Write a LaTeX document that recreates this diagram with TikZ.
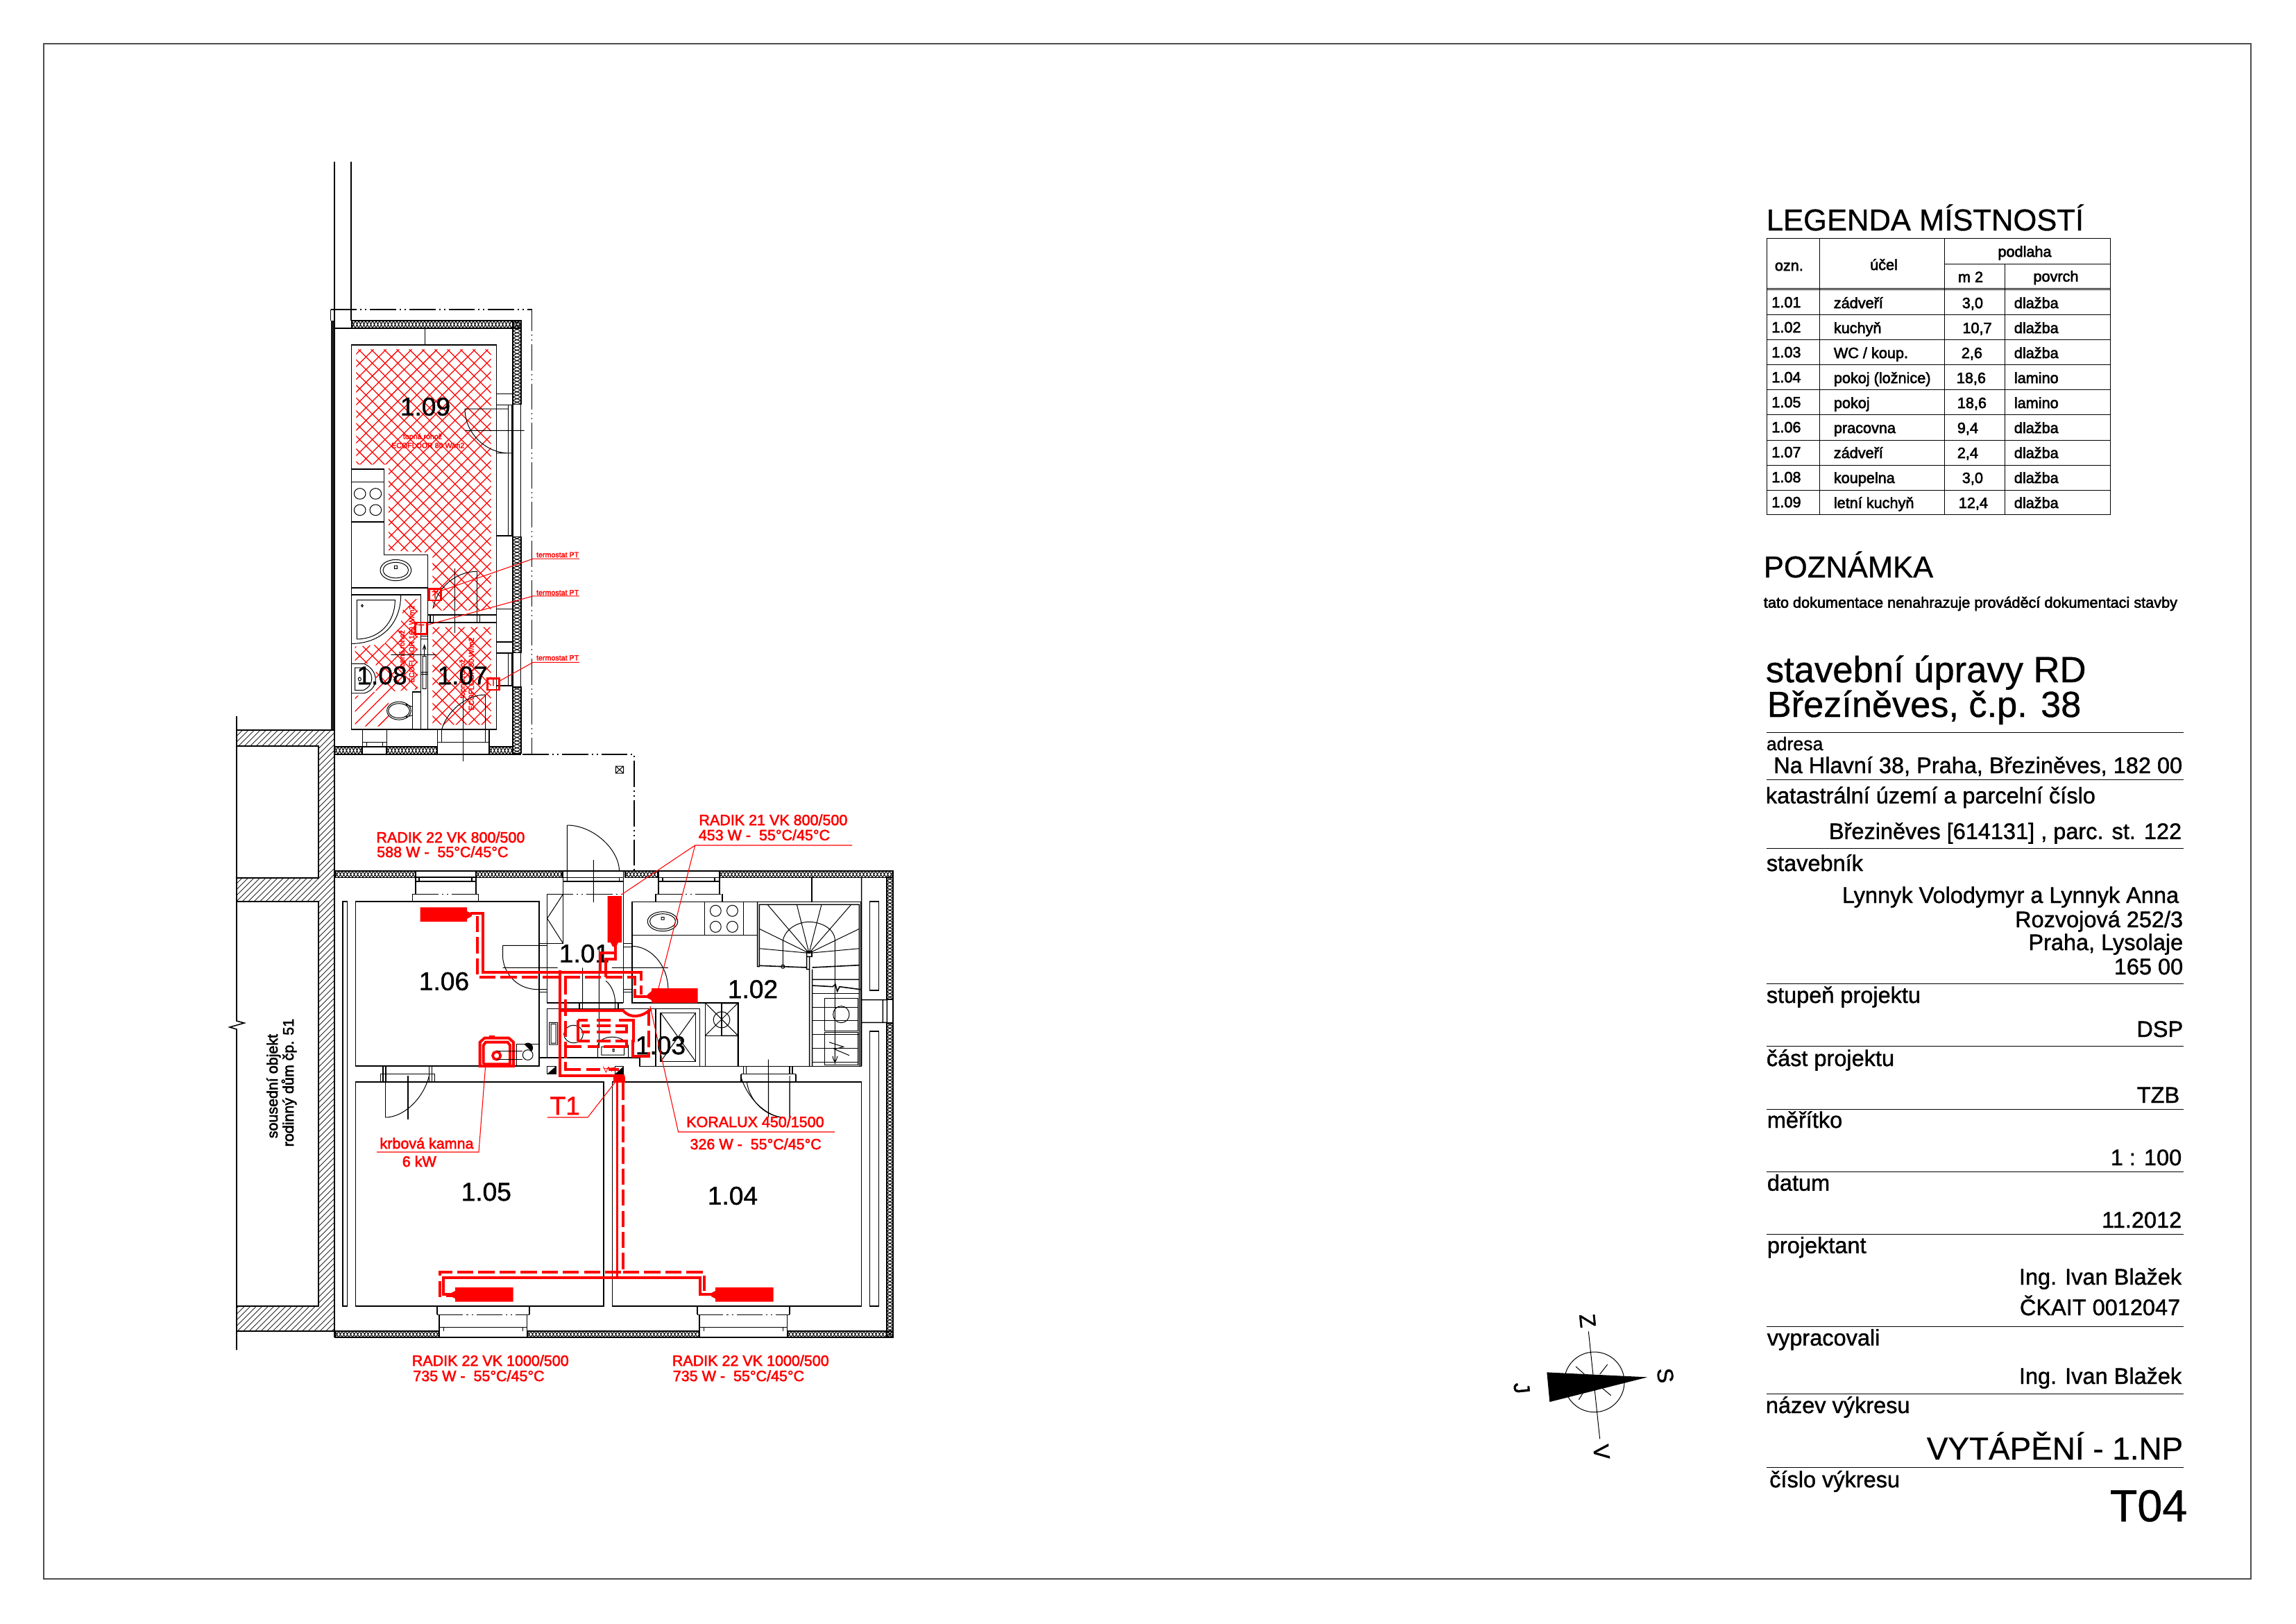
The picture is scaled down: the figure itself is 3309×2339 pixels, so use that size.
\documentclass[tikz,border=0pt]{standalone}
\usepackage{fontspec}
\setmainfont{Liberation Sans}
\newfontfamily\fb{Liberation Sans}[FakeBold=2.5]
\newfontfamily\fc{Liberation Sans}[FakeBold=1.2]
\newfontfamily\fd{Liberation Sans}[FakeBold=.7]
\newcount\tn
\newcommand{\TL}[4]{\global\advance\tn by 1 \node[anchor=base west,inner sep=0pt,name=t\the\tn] at (#1,#2) {\fontsize{#3pt}{#3pt}\selectfont #4};}
\newcommand{\TR}[4]{\global\advance\tn by 1 \node[anchor=base east,inner sep=0pt,name=t\the\tn] at (#1,#2) {\fontsize{#3pt}{#3pt}\selectfont #4};}
\newcommand{\TC}[4]{\global\advance\tn by 1 \node[anchor=base,inner sep=0pt,name=t\the\tn] at (#1,#2) {\fontsize{#3pt}{#3pt}\selectfont #4};}
\newcommand{\TV}[4]{\global\advance\tn by 1 \node[rotate=90,anchor=base,inner sep=0pt,name=t\the\tn] at (#1,#2) {\fontsize{#3pt}{#3pt}\selectfont #4};}
\newcommand{\TA}[5]{\global\advance\tn by 1 \node[rotate=#5,anchor=center,inner sep=0pt,name=t\the\tn] at (#1,#2) {\fontsize{#3pt}{#3pt}\selectfont #4};}
\newcommand{\HB}[4]{\begin{scope}\clip (#1,#3) rectangle (#2,#4);\pgfmathtruncatemacro\nn{(#2-#1)/5}\foreach \i in {0,...,\nn}{\draw[band] ({#1+5*\i},#3) -- ({#1+5*\i+5},#4) ({#1+5*\i+5},#3) -- ({#1+5*\i},#4);}\end{scope}\draw[blk] (#1,#3) rectangle (#2,#4);}
\newcommand{\VB}[4]{\begin{scope}\clip (#1,#3) rectangle (#2,#4);\pgfmathtruncatemacro\nn{(#4-#3)/5}\foreach \i in {0,...,\nn}{\draw[band] (#1,{#3+5*\i}) -- (#2,{#3+5*\i+5}) (#1,{#3+5*\i+5}) -- (#2,{#3+5*\i});}\end{scope}\draw[blk] (#1,#3) rectangle (#2,#4);}
\newcommand{\Row}[6]{\TL{2552.5}{#1}{5.2}{\fb #2}\TL{2642}{#1+1}{5.2}{\fb #3}\TL{#4}{#1+1}{5.2}{\fb #5}\TL{2902}{#1+1}{5.2}{\fb #6}}
\tikzset{
 blk/.style={line width=.38pt,black},
 thinb/.style={line width=.24pt,black},
 band/.style={line width=.24pt,black},
 ddot/.style={line width=.28pt,black,dash pattern=on 9pt off 1.2pt on .5pt off 1.2pt on .5pt off 1.2pt},
 leader/.style={line width=.26pt,red},
 pipe/.style={line width=.95pt,red,line join=miter},
 dpipe/.style={line width=.95pt,red,dash pattern=on 5.6pt off 1.7pt},
 rline/.style={line width=.6pt,red},
 ttl/.style={line width=.22pt,black},
 zA/.style={shift={(440,420)},x=.08pt,y=-.10408pt},
 zB/.style={shift={(320,1100)},x=.0949pt,y=-.08pt},
 zC/.style={shift={(700,1150)},x=.0949pt,y=-.08pt},
 zD/.style={shift={(320,1550)},x=.15306pt,y=-.08pt},
 zE/.style={shift={(620,1330)},x=.08pt,y=-.08pt},
 zF/.style={shift={(1040,1250)},x=.08pt,y=-.08pt},
 zG/.style={shift={(2140,1860)},x=.08pt,y=-.08pt},
 zH/.style={shift={(480,780)},x=.08pt,y=-.08pt},
}
\begin{document}
\begin{tikzpicture}[x=.24pt,y=-.24pt]
\useasboundingbox (0,0) rectangle (3309,2339);
\fill[white] (0,0) rectangle (3309,2339);
\draw[line width=.3pt,black!70] (63,63) rectangle (3244,2275);

% ---- neighbour building hatch
\begin{scope}
\clip (341,1052) -- (482,1052) -- (482,1918) -- (341,1918) -- (341,1882) -- (459,1882) -- (459,1299) -- (341,1299) -- (341,1265) -- (459,1265) -- (459,1075) -- (341,1075) -- cycle;
\foreach \i in {0,...,125}{\draw[line width=.16pt] (341,{1052+8.5*\i}) -- (482,{1052+8.5*\i-141});}
\end{scope}
\draw[blk] (341,1032) -- (341,1471) -- (352,1474) -- (331,1480) -- (341,1483) -- (341,1945);
\draw[blk] (341,1052) -- (482,1052) (341,1075) -- (459,1075) -- (459,1265) -- (341,1265) (341,1299) -- (459,1299) -- (459,1882) -- (341,1882) (341,1918) -- (483,1918);
\draw[blk] (482,233) -- (482,1927);
\draw[blk] (506,233) -- (506,462);
\fill[black!90] (477,462) rectangle (482.3,1051);
\TV{400}{1565}{5.15}{\fb sousední objekt}
\TV{423}{1560}{5.15}{\fb rodinný dům čp. 51}

% ---- annex red floor heating
\begin{scope}
\clip (513.3,503.3) -- (707.7,503.3) -- (707.7,879.7) -- (623.3,879.7) -- (623.3,796.4) -- (560,793) -- (560,669.3) -- (513.3,669.3) -- cycle
 (623.3,903.5) -- (707.7,903.5) -- (707.7,1044.4) -- (623.3,1044.4) -- cycle
 (583.3,863.3) -- (601.7,863.3) -- (601.7,993.3) -- (560,996.7) -- (560,1046.7) -- (511.7,1046.7) -- (511.7,1003.3) -- (541.7,996.7) -- (541.7,956.7) -- (511.7,955) -- (511.7,931.7) -- (553.3,928.3) -- (576.7,903.3) -- cycle;
\foreach \k in {-40,...,8}{\draw[line width=.3pt,red] (500,{500+280+\k*18.33}) -- (720,{720+280+\k*18.33});}
\foreach \k in {-32,...,16}{\draw[line width=.3pt,red] (500,{1536.6-500+\k*18.33}) -- (720,{1536.6-720+\k*18.33});}
\end{scope}

% ---- annex bands
\HB{507}{751}{462}{473}
\VB{739}{751}{462}{582.6}
\VB{739}{751}{773.4}{940.4}
\VB{739}{751}{990}{1085.6}
\HB{482}{522}{1075.7}{1087}
\HB{557}{630}{1075.7}{1087}
\HB{705}{739}{1075.7}{1087}

% ---- annex drawing
\begin{scope}[zA]
\draw[ddot] (110,60) -- (980,60) -- (980,1538);
\draw[blk] (110,60) -- (110,97) (110,60) -- (200,60);
\draw[blk] (932,97) -- (932,1538) -- (127,1538);
\draw[blk] (127,122) -- (897,122) -- (897,1512) (517,122) -- (517,177);
\draw[blk] (200,177) rectangle (827,1455);
\draw[blk] (827,340) -- (897,340) (827,377) -- (897,377) (877,377) -- (877,812) (893,377) -- (893,812) (827,812) -- (897,812);
\draw[thinb] (690,390) -- (880,390) (690,462) -- (947,462) (690,390) .. controls (690,470) and (780,537) .. (880,537) (827,537) -- (895,537);
\draw[blk] (200,590) -- (340,590) -- (340,875) -- (530,875) -- (530,1455) (200,633) -- (340,633) (200,765) -- (340,765);
\foreach \a/\b in {236/672,304/672,236/726,304/726}{\draw[thinb] (\a,\b) ellipse [x radius=25,y radius=18];}
\draw[thinb] (391,926) ellipse [x radius=67,y radius=35] (391,926) ellipse [x radius=55,y radius=26] (385,911) rectangle (397,921);
\draw[blk] (200,985) -- (530,985) (200,1008) -- (500,1008) -- (500,1455);
\draw[thinb] (223,1025) -- (388,1025) .. controls (388,1100) and (320,1155) .. (223,1155) -- cycle (246,1044) circle [radius=4];
\draw[thinb] (413,1008) .. controls (413,1110) and (320,1170) .. (200,1170);
\draw[blk] (530,1100) -- (827,1100) (530,1075) -- (827,1075) (540,1075) -- (540,1100) (553,1075) -- (553,1100) (755,1075) -- (755,1100);
\draw[blk] (743,930) -- (743,1100) (647,920) -- (647,1135);
\draw[thinb] (553,1050) .. controls (570,985) and (650,930) .. (743,930);
\draw[blk] (827,1055) -- (897,1055) (827,1165) -- (897,1165) (827,1202) -- (897,1202) (877,1202) -- (877,1310) (893,1202) -- (893,1310) (827,1310) -- (897,1310);
\draw[thinb] (500,1145) -- (530,1145) (500,1155) -- (530,1155) (507,1212) rectangle (522,1320) (515,1212) -- (515,1175) (508,1190) -- (515,1175) -- (522,1190) (370,1207) -- (565,1207) (500,1265) -- (530,1265) (500,1272) -- (530,1272);
\draw[thinb] (200,1237) -- (255,1237) .. controls (320,1260) and (320,1320) .. (255,1335) -- (200,1335) (215,1250) -- (215,1325) -- (250,1325) .. controls (300,1310) and (300,1260) .. (250,1250) -- cycle (235,1288) circle [radius=6];
\draw[blk] (463,1330) -- (500,1330) (463,1330) -- (463,1455);
\draw[thinb] (405,1393) ellipse [x radius=52,y radius=30] (405,1393) ellipse [x radius=46,y radius=24] (435,1372) -- (463,1380) (435,1414) -- (463,1408);
\draw[blk] (247,1455) -- (247,1538) (352,1455) -- (352,1538) (247,1498) -- (352,1498) (265,1498) -- (265,1512) (335,1498) -- (335,1512) (247,1512) -- (352,1512);
\draw[blk] (572,1455) -- (572,1538) (590,1455) -- (590,1498) (778,1340) -- (778,1498) (795,1455) -- (795,1538) (572,1498) -- (795,1498) (682,1340) -- (682,1560);
\draw[thinb] (590,1455) .. controls (610,1400) and (690,1340) .. (778,1340);
% thermostats
\draw[leader] (1185,888) -- (985,888) -- (585,995) (1185,1012) -- (985,1012) -- (527,1108) (1185,1232) -- (985,1232) -- (838,1295);
\draw[rline] (535,988) rectangle (587,1026) (475,1100) rectangle (525,1138) (787,1285) rectangle (838,1323);
\end{scope}
\begin{scope}[color=red]
\TL{772.3}{803}{2.56}{\fb termostat PT}
\TL{772.3}{857.5}{2.56}{\fb termostat PT}
\TL{772.3}{951.5}{2.56}{\fb termostat PT}
\TA{627}{857}{3.6}{\fb T}{0}
\TA{607}{905}{3.6}{\fb T}{0}
\TA{711}{983}{3.6}{\fb T}{0}
\TC{609}{632.5}{2.55}{\fb topná rohož}
\TC{616.7}{645.5}{2.55}{\fb ECOFLOOR 80 W/m2}
\TV{583}{936}{2.55}{\fb topná rohož}
\TV{597}{928}{2.55}{\fb ECOFLOOR 160 W/m2}
\TV{670}{978}{2.55}{\fb topná rohož}
\TV{683}{971}{2.55}{\fb ECOFLOOR 80 W/m2}
\end{scope}
\TC{613}{598.7}{8.9}{\fc 1.09}
\TC{550.5}{986}{8.9}{\fc 1.08}
\TC{666.7}{986}{8.9}{\fc 1.07}

% ---- yard
\draw[ddot] (640,1087) -- (914,1087) -- (914,1255);
\draw[thinb] (887.4,1104) rectangle (898.5,1114) (887.4,1104) -- (898.5,1114) (887.4,1114) -- (898.5,1104);

% ---- main building bands
\HB{483}{599}{1255}{1264.5}
\HB{686.5}{810}{1255}{1264.5}
\HB{901}{948}{1255}{1264.5}
\HB{1037}{1287}{1255}{1264.5}
\VB{1278}{1287}{1264}{1440}
\VB{1278}{1287}{1474}{1927}
\HB{483}{633}{1918}{1927}
\HB{760}{1008}{1918}{1927}
\HB{1135}{1287}{1918}{1927}
\draw[blk] (483,1927) -- (1287,1927) (483,1255) -- (1287,1255) -- (1287,1927);

% ---- rooms
\draw[blk] (494,1299) rectangle (500.7,1882);
\draw[blk] (512.6,1299) rectangle (776.7,1536);
\draw[blk] (512.6,1559) rectangle (870,1882);
\draw[blk] (882.5,1559) rectangle (1241.6,1882);
\draw[blk] (1253.6,1299) rectangle (1266.6,1427) (1253.6,1486) rectangle (1266.6,1882);

\begin{scope}[zB]
% window 1.06
\draw[blk] (705,465) -- (705,565) (925,465) -- (925,565) (705,492) -- (925,492) (718,492) -- (718,510) (910,492) -- (910,510) (705,510) -- (925,510) (694,565) -- (694,598) (935,565) -- (935,598);
\draw[ddot] (694,565) -- (935,565);
% door 1.05
\draw[blk] (587,1309) -- (587,1378) (597,1309) -- (597,1378) (755,1309) -- (755,1378) (765,1309) -- (765,1378) (578,1342) -- (775,1342) (578,1342) -- (578,1378) (775,1342) -- (775,1378);
\end{scope}
\begin{scope}[zD]
\draw[blk] (369,0) -- (369,180) (420,0) -- (420,188);
\draw[thinb] (468,0) .. controls (455,100) and (410,180) .. (369,180);
% bottom windows
\foreach \d in {0,588}{
\begin{scope}[xshift=\d*.15306pt]
\draw[blk] (486,997) -- (486,1033) (695,997) -- (695,1033) (491,1033) -- (491,1105) (689,1033) -- (689,1105) (491,1087) -- (689,1087) (501,1087) -- (501,1105) (680,1087) -- (680,1105);
\draw[ddot] (486,1033) -- (695,1033);
\end{scope}}
\draw[thinb] (1172,0) .. controls (1185,90) and (1225,170) .. (1265,180) (1235,0) -- (1235,180) (1283,0) -- (1283,180);
\end{scope}

\begin{scope}[zC]
% entry door
\draw[blk] (282,317) -- (282,415) (502,317) -- (502,885) (282,344) -- (502,344) (297,344) -- (297,360) (487,344) -- (487,360) (282,360) -- (502,360);
\draw[thinb] (297,117) -- (297,360) (297,117) .. controls (390,117) and (487,220) .. (487,317) (393,267) -- (393,450);
\draw[ddot] (224,415) -- (502,415);
% closet
\draw[blk] (224,415) -- (224,885) -- (502,885) (282,415) -- (282,628) (224,628) -- (282,628);
\draw[thinb] (224,520) -- (282,415) (224,520) -- (282,628);
\draw[blk] (193,628) -- (224,628) (193,838) -- (224,838) (502,628) -- (533,628) (502,643) -- (533,643) (502,827) -- (533,827) (502,838) -- (533,838);
\draw[thinb] (62,637) -- (224,637) (62,637) -- (62,680) .. controls (62,750) and (110,827) .. (190,827) -- (224,827) (62,733) -- (262,733) (353,733) -- (353,885) (413,640) -- (413,1080);
\draw[thinb] (438,790) .. controls (460,810) and (472,850) .. (472,885);
\draw[thinb] (460,733) -- (665,733) (533,640) .. controls (600,640) and (665,720) .. (665,830);
\draw[blk] (193,448) -- (193,1160);
% window kitchen
\draw[blk] (630,317) -- (630,415) (852,317) -- (852,415) (630,344) -- (852,344) (645,344) -- (645,360) (835,344) -- (835,360) (630,360) -- (852,360) (620,415) -- (620,448) (862,415) -- (862,448);
\draw[ddot] (620,415) -- (862,415);
% kitchen
\draw[blk] (533,448) -- (1368,448) -- (1368,1160) (533,448) -- (533,885) -- (800,885) (533,592) -- (990,592) (798,448) -- (798,592) (940,448) -- (940,592);
\draw[thinb] (645,533) ellipse [x radius=55,y radius=42] (645,533) ellipse [x radius=47,y radius=33] (640,515) rectangle (650,525);
\foreach \a/\b in {838/487,899/487,838/556,899/556}{\draw[thinb] (\a,\b) ellipse [x radius=20,y radius=24];}
% WC
\draw[blk] (224,910) -- (780,910) -- (780,1160) (224,910) -- (224,1122) -- (562,1122) -- (562,1160) -- (1368,1160) (193,1122) -- (224,1122) (342,885) -- (342,910) (353,885) -- (353,910) (472,885) -- (472,910) (483,885) -- (483,910) (800,885) -- (920,885) -- (920,1160) (800,885) -- (800,1160) (800,1027) -- (920,1027) (620,910) -- (620,1160) (638,928) rectangle (765,1138);
\draw[thinb] (638,928) -- (765,1138) (638,1138) -- (765,928) (800,885) -- (920,1027) (800,1027) -- (920,885) (860,958) ellipse [x radius=30,y radius=35];
\draw[thinb] (320,1020) ellipse [x radius=35,y radius=38] (232,970) rectangle (262,1065) (238,976) rectangle (256,1059);
\draw[thinb] (408,1122) -- (408,1070) .. controls (420,1020) and (500,1020) .. (520,1070) -- (520,1122) (422,1110) rectangle (505,1075) (463,1085) rectangle (468,1095);
% flue
\draw[blk] (112,1063) rectangle (193,1160);
% shafts
\draw[blk] (224,1160) rectangle (255,1192) (472,1160) rectangle (502,1192);
\fill (255,1160) -- (255,1192) -- (224,1192) -- cycle;
\fill (502,1160) -- (502,1192) -- (472,1192) -- cycle;
% doors lower
\draw[blk] (940,1160) -- (940,1193) (950,1160) -- (950,1193) (1108,1160) -- (1108,1193) (1118,1160) -- (1118,1193) (930,1193) -- (1130,1193) (930,1193) -- (930,1228) (1130,1193) -- (1130,1228);
\draw[ddot] (930,1228) -- (1130,1228);
\draw[thinb] (952,1228) .. controls (960,1300) and (1010,1370) .. (1080,1380) (1030,1130) -- (1030,1380) (1108,1228) -- (1108,1380);
\end{scope}

% staircase
\begin{scope}[zF]
\draw[blk] (155,150) -- (155,428) -- (163,428) -- (163,160) -- (595,160) -- (595,858) (605,40) -- (605,858) (390,40) -- (390,150) (605,572) -- (715,572) (605,670) -- (715,670) (697,572) -- (697,670) (715,572) -- (715,670) (380,440) -- (380,858) (392,440) -- (392,858) (368,362) rectangle (390,385) (368,385) rectangle (380,440) (163,424) -- (368,432) (0,587) rectangle (70,727) (70,587) -- (70,858);
\foreach \a/\b in {198/160,325/160,432/160,560/160,163/265,595/265,163/350,595/350}{\draw[thinb] (378,370) -- (\a,\b);}
\draw[thinb] (265,428) -- (265,315) .. controls (275,265) and (330,235) .. (378,235) .. controls (430,235) and (490,265) .. (490,315) -- (490,850);
\draw[thinb] (265,428) circle [radius=8];
\draw[blk] (392,432) -- (595,422) (392,484) -- (595,484) (392,510) -- (480,515) -- (492,505) -- (500,535) -- (510,515) -- (600,527);
\draw[thinb] (392,545) -- (595,545) (392,605) -- (590,605) (392,660) -- (590,660) (392,720) -- (595,720) (392,782) -- (590,782) (392,840) -- (590,840);
\draw[blk] (445,565) rectangle (590,707) (445,712) rectangle (590,853);
\draw[thinb] (517,635) ellipse [x radius=35,y radius=36] (465,755) -- (527,775) -- (488,785) -- (552,812) (490,790) -- (490,840) (480,815) .. controls (482,830) and (488,838) .. (490,840) .. controls (495,835) and (500,825) .. (500,815);
\end{scope}

% ---- room numbers
\TC{640}{1426.7}{8.9}{\fc 1.06}
\TC{842}{1386.7}{8.9}{\fc 1.01}
\TC{1085}{1438}{8.9}{\fc 1.02}
\TC{952}{1519}{8.9}{\fc 1.03}
\TC{700.8}{1730}{8.9}{\fc 1.05}
\TC{1056}{1735.7}{8.9}{\fc 1.04}

% ---- heating pipes
\draw[pipe] (678,1316) -- (695.6,1316) -- (695.6,1401) -- (924,1401) -- (924,1413);
\draw[dpipe] (687.7,1320) -- (687.7,1408) -- (915,1408) -- (915,1430);
\draw[pipe] (915,1425) -- (915,1436) -- (937,1436);
\draw[pipe,dash pattern=on 3pt off 1.6pt] (924,1420) -- (924,1434);
\draw[pipe] (865,1401) -- (865,1373.3) -- (886.7,1373.3) -- (886.7,1360);
\draw[pipe] (873.3,1408) -- (873.3,1381.7) -- (886.7,1381.7) -- (886.7,1360);
\draw[pipe] (807.3,1398) -- (807.3,1550) -- (898.3,1550) -- (898.3,1562);
\draw[pipe] (889.5,1555) -- (889.5,1841) -- (639,1841) -- (639,1865) -- (658,1865);
\draw[pipe] (889.5,1841) -- (1009,1841) -- (1009,1865) -- (1031,1865);
\draw[dpipe] (898,1562) -- (898,1833) -- (634,1833) -- (634,1867) -- (655,1867);
\draw[dpipe] (898,1833) -- (1015,1833) -- (1015,1860);
\fill[red] (884,1551) rectangle (901,1560);
\draw[pipe] (807.3,1456) -- (898,1456) .. controls (908,1468) and (925,1466) .. (938,1454);
\begin{scope}[zE]
\draw[dpipe] (945,375) -- (945,575);
\draw[pipe] (945,560) -- (945,575) -- (875,575) -- (875,505);
\draw[pipe] (640,420) -- (640,510);
\draw[pipe] (880,415) -- (880,515);
\draw[pipe] (815,420) -- (880,420);
\draw[pipe] (640,420) -- (680,420) (720,420) -- (780,420) (655,445) -- (690,445) (720,445) -- (780,445) (800,445) -- (850,445) -- (850,470) -- (800,470) (655,470) -- (690,470) (720,470) -- (780,470) (640,510) -- (690,510) (720,510) -- (780,510) (800,510) -- (850,510) -- (850,535) -- (750,535) (730,535) -- (680,535) (655,535) -- (590,535);
\draw[dpipe] (585,240) -- (585,632);
\draw[pipe] (585,600) -- (585,632) -- (650,632) (675,632) -- (735,632) (770,632) -- (815,632);
\draw[line width=.2pt,red] (748,620) -- (760,645) -- (770,622) -- (785,640) -- (795,625) (750,630) -- (800,625);
\draw[dpipe] (835,690) -- (835,710);
% stove
\draw[pipe] (215,618) -- (215,515) -- (235,497) -- (340,497) -- (360,515) -- (360,618) -- cycle;
\draw[pipe] (230,610) -- (230,528) -- (240,515) -- (335,515) -- (345,528) -- (345,610) -- (230,610);
\fill[red] (255,485) rectangle (280,497);
\draw[red,line width=.9pt] (287,573) circle [radius=17];
\draw[thinb] (287,553) -- (400,553) (287,590) -- (400,590);
\draw[blk] (373,523) rectangle (470,618);
\draw[thinb] (422,570) circle [radius=22];
\fill (438,555) arc[start angle=45,end angle=-135,radius=22] -- cycle;
\end{scope}
% radiators
\fill[red] (605.5,1307.3) rectangle (673,1328) (673,1313) -- (680,1316) -- (680,1320) -- (673,1324) -- cycle;
\fill[red] (875.6,1291) rectangle (896,1358) (880,1358) -- (891,1358) -- (888,1364) -- (883,1364) -- cycle;
\fill[red] (939,1424) rectangle (1005.6,1445) (939,1428) -- (933,1433) -- (933,1438) -- (939,1441) -- cycle;
\fill[red] (656,1855) rectangle (739.6,1875.7) (656,1860) -- (650,1863) -- (650,1868) -- (656,1871) -- cycle;
\fill[red] (1031,1855) rectangle (1114.6,1875.7) (1031,1860) -- (1025,1863) -- (1025,1868) -- (1031,1871) -- cycle;

% ---- red leaders and labels
\draw[leader] (1228,1218) -- (1001.7,1218) -- (895.7,1289) (1001.7,1218) -- (949,1424);
\draw[leader] (1203,1631) -- (977.6,1631) -- (937,1450);
\draw[leader] (789,1610) -- (847,1610) -- (886,1560);
\draw[leader] (543,1660) -- (690,1660) -- (699.6,1536.7);
\begin{scope}[color=red]
\TL{541.6}{1214}{5.16}{\fb RADIK 22 VK 800/500}
\TL{542.4}{1235}{5.16}{\fb 588 W -\ \ 55°C/45°C}
\TL{1006.6}{1189}{5.16}{\fb RADIK 21 VK 800/500}
\TL{1006}{1210.7}{5.16}{\fb 453 W -\ \ 55°C/45°C}
\TL{988.4}{1624}{5.16}{\fb KORALUX 450/1500}
\TL{993.7}{1656}{5.16}{\fb 326 W -\ \ 55°C/45°C}
\TL{791.7}{1606}{8.9}{\fc T1}
\TL{546.7}{1655}{5.16}{\fb krbová kamna}
\TL{579}{1681}{5.16}{\fb 6 kW}
\TL{593}{1968}{5.16}{\fb RADIK 22 VK 1000/500}
\TL{594.5}{1990}{5.16}{\fb 735 W -\ \ 55°C/45°C}
\TL{968}{1968}{5.16}{\fb RADIK 22 VK 1000/500}
\TL{969}{1990}{5.16}{\fb 735 W -\ \ 55°C/45°C}
\end{scope}

% ---- compass
\begin{scope}[zG]
\draw[thinb] (473,394) circle [radius=130];
\draw[thinb] (448,175) -- (497,640) (393,327) -- (430,360) (530,318) -- (497,360) (507,420) -- (545,452) (425,440) -- (406,470);
\fill (268,352) -- (703,373) -- (280,480) -- cycle;
\end{scope}
\TA{2288}{1903}{7.7}{\fc Z}{-84}
\TA{2400}{1982}{7.7}{\fc S}{-84}
\TA{2193}{2000}{7.7}{\fc J}{-84}
\TA{2308}{2092}{7.7}{\fc V}{-84}

% ---- legend
\TL{2545}{332}{10.45}{\fd LEGENDA MÍSTNOSTÍ}
\draw[ttl] (2546,343) rectangle (3041,741.7);
\draw[ttl] (2622.5,343) -- (2622.5,741.7) (2802,343) -- (2802,741.7) (2889,380) -- (2889,741.7) (2802,380) -- (3041,380);
\foreach \y in {415,417.5,453,489.5,525.5,561.5,597.5,634,670,706}{\draw[ttl] (2546,\y) -- (3041,\y);}
\TL{2557}{390}{5.2}{\fb ozn.}
\TC{2715}{389}{5.2}{\fb účel}
\TC{2918}{370}{5.2}{\fb podlaha}
\TC{2840}{406.5}{5.2}{\fb m 2}
\TC{2963}{405.7}{5.2}{\fb povrch}
\Row{443}{1.01}{zádveří}{2827}{3,0}{dlažba}
\Row{479}{1.02}{kuchyň}{2827.6}{10,7}{dlažba}
\Row{515}{1.03}{WC / koup.}{2826}{2,6}{dlažba}
\Row{551}{1.04}{pokoj (ložnice)}{2819}{18,6}{lamino}
\Row{587}{1.05}{pokoj}{2820}{18,6}{lamino}
\Row{623}{1.06}{pracovna}{2820}{9,4}{dlažba}
\Row{659}{1.07}{zádveří}{2820}{2,4}{dlažba}
\Row{695}{1.08}{koupelna}{2827}{3,0}{dlažba}
\Row{731}{1.09}{letní kuchyň}{2822}{12,4}{dlažba}
\TL{2541}{832}{10.45}{\fd POZNÁMKA}
\TL{2541}{875.6}{5.2}{\fb tato dokumentace nenahrazuje prováděcí dokumentaci stavby}

% ---- title block
\foreach \y in {1055,1123.6,1222,1417.5,1507.5,1598,1688,1778,1911,2008,2114.6}{\draw[ttl] (2546,\y) -- (3147,\y);}
\TL{2544}{983}{12.62}{\fd stavební úpravy RD}
\TL{2546}{1033}{12.55}{\fd Březíněves, č.p. 38}
\TL{2545}{1081}{6.4}{\fc adresa}
\TR{3146}{1114}{7.8}{\fc Na Hlavní 38, Praha, Březiněves, 182 00}
\TL{2544}{1157.5}{7.8}{\fc katastrální území a parcelní číslo}
\TR{3145}{1209}{7.8}{\fc Březiněves [614131] , parc. st. 122}
\TL{2545}{1255}{7.8}{\fc stavebník}
\TR{3141}{1301}{7.8}{\fc Lynnyk Volodymyr a Lynnyk Anna}
\TR{3147}{1336}{7.8}{\fc Rozvojová 252/3}
\TR{3147}{1369}{7.8}{\fc Praha, Lysolaje}
\TR{3147}{1404}{7.8}{\fc 165 00}
\TL{2545}{1445}{7.8}{\fc stupeň projektu}
\TR{3147}{1494}{7.8}{\fc DSP}
\TL{2545}{1536}{7.8}{\fc část projektu}
\TR{3142}{1589}{7.8}{\fc TZB}
\TL{2546}{1625}{7.8}{\fc měřítko}
\TR{3145}{1679}{7.8}{\fc 1 : 100}
\TL{2546}{1715.6}{7.8}{\fc datum}
\TR{3145}{1769}{7.8}{\fc 11.2012}
\TL{2546}{1805.6}{7.8}{\fc projektant}
\TR{3145}{1851}{7.8}{\fc Ing. Ivan Blažek}
\TR{3143}{1895}{7.8}{\fc ČKAIT 0012047}
\TL{2546}{1938.7}{7.8}{\fc vypracovali}
\TR{3145}{1994}{7.8}{\fc Ing. Ivan Blažek}
\TL{2544}{2036}{7.8}{\fc název výkresu}
\TR{3147}{2103}{11}{\fd VYTÁPĚNÍ - 1.NP}
\TL{2549.4}{2143}{7.8}{\fc číslo výkresu}
\TR{3153}{2192}{15.5}{\fd T04}
\end{tikzpicture}
\end{document}
